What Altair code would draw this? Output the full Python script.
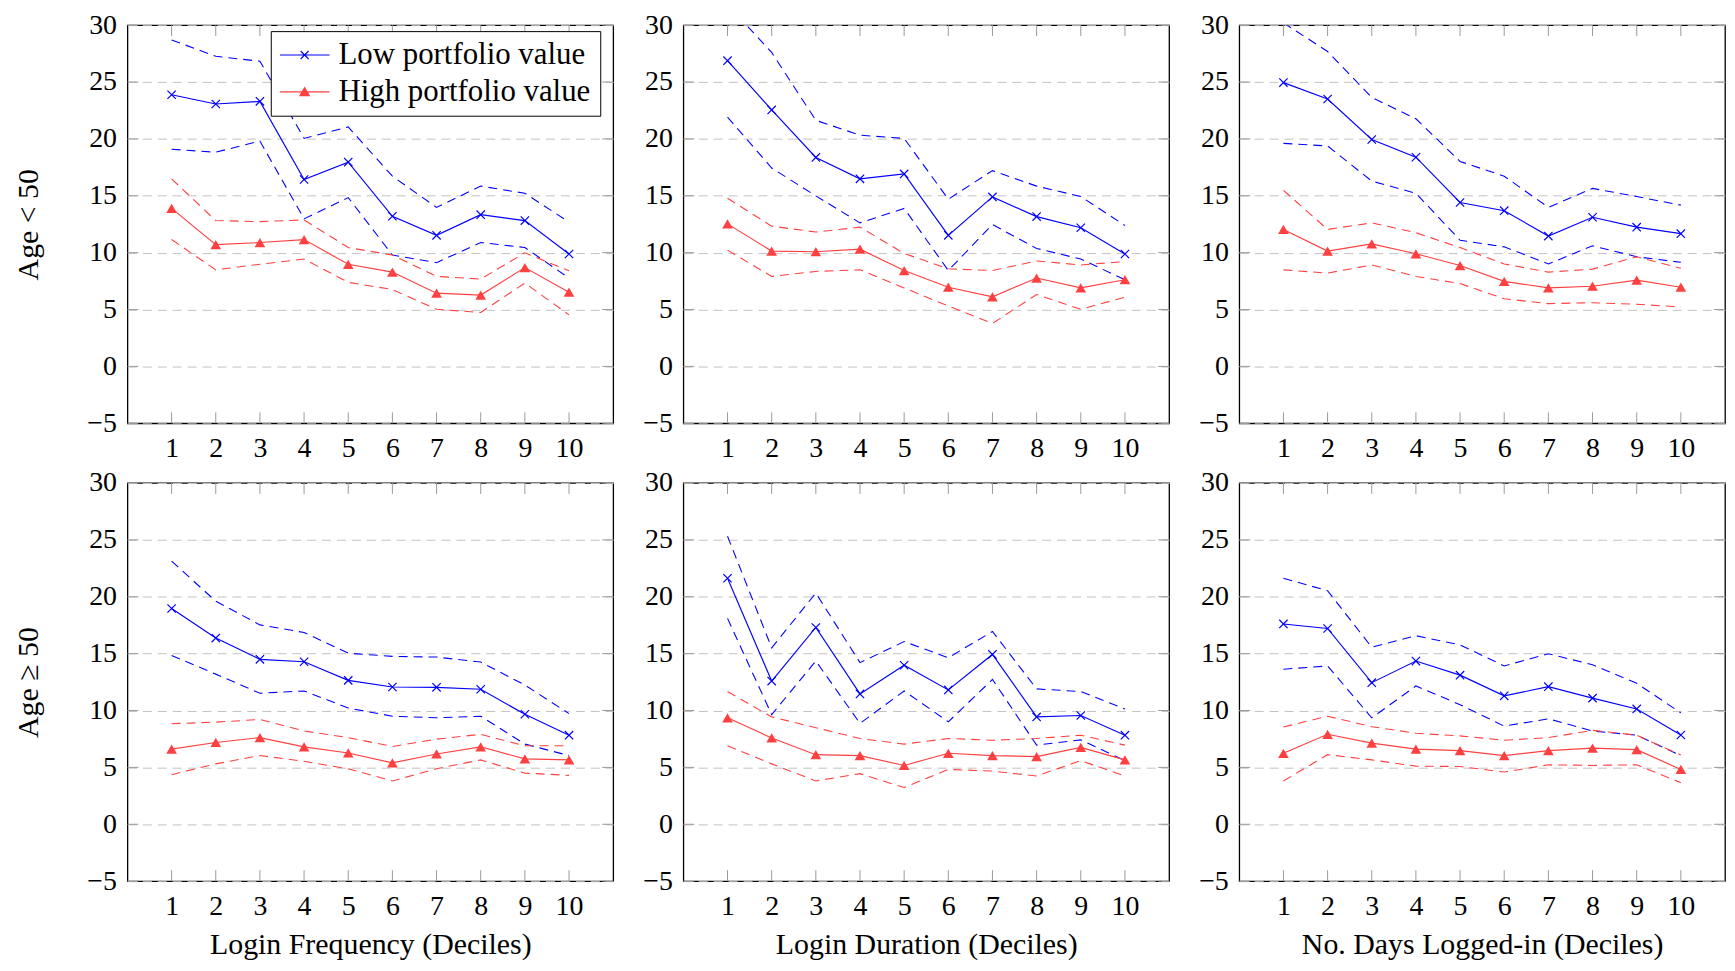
import altair as alt
import pandas as pd

# ---------------- data ----------------
DECILES = list(range(1, 11))
Y_TICKS = [-5, 0, 5, 10, 15, 20, 25, 30]
SERIES = ["Low portfolio value", "High portfolio value"]
X_TITLES = ["Login Frequency (Deciles)", "Login Duration (Deciles)", "No. Days Logged-in (Deciles)"]
ROW_TITLES = ["Age < 50", "Age \u2265 50"]

# Age < 50, Login Frequency
FREQ_Y_LOW = [23.88, 23.07, 23.3, 16.43, 17.96, 13.2, 11.52, 13.34, 12.82, 9.88]
FREQ_Y_LOW_UP = [28.7, 27.26, 26.83, 20.04, 21.05, 16.72, 13.98, 15.85, 15.22, 12.68]
FREQ_Y_LOW_LO = [19.09, 18.83, 19.81, 12.97, 14.84, 9.79, 9.12, 10.89, 10.45, 7.77]
FREQ_Y_HIGH = [13.89, 10.71, 10.89, 11.15, 8.98, 8.29, 6.44, 6.27, 8.69, 6.53]
FREQ_Y_HIGH_UP = [16.49, 12.82, 12.73, 12.88, 10.45, 9.79, 7.91, 7.68, 9.99, 8.4]
FREQ_Y_HIGH_LO = [11.15, 8.49, 8.98, 9.44, 7.39, 6.76, 5.02, 4.74, 7.33, 4.53]

# Age < 50, Login Duration
DUR_Y_LOW = [26.88, 22.55, 18.37, 16.49, 16.92, 11.52, 14.9, 13.17, 12.19, 9.88]
DUR_Y_LOW_UP = [31.8, 27.6, 21.63, 20.33, 20.04, 14.7, 17.21, 15.85, 14.93, 12.39]
DUR_Y_LOW_LO = [21.92, 17.44, 14.99, 12.62, 13.89, 8.43, 12.47, 10.37, 9.44, 7.62]
DUR_Y_HIGH = [12.53, 10.14, 10.08, 10.31, 8.43, 6.96, 6.12, 7.77, 6.9, 7.62]
DUR_Y_HIGH_UP = [14.78, 12.33, 11.81, 12.24, 9.93, 8.58, 8.43, 9.27, 8.92, 9.21]
DUR_Y_HIGH_LO = [10.22, 7.91, 8.35, 8.49, 6.9, 5.31, 3.78, 6.32, 5.02, 6.09]

# Age < 50, No. Days Logged-in
DAYS_Y_LOW = [24.95, 23.51, 19.95, 18.39, 14.41, 13.69, 11.46, 13.11, 12.24, 11.67]
DAYS_Y_LOW_UP = [30.2, 27.69, 23.65, 21.77, 18.02, 16.72, 13.98, 15.65, 14.93, 14.18]
DAYS_Y_LOW_LO = [19.61, 19.38, 16.29, 15.22, 11.09, 10.51, 9.01, 10.6, 9.64, 9.15]
DAYS_Y_HIGH = [12.04, 10.14, 10.77, 9.9, 8.87, 7.48, 6.9, 7.05, 7.59, 6.96]
DAYS_Y_HIGH_UP = [15.48, 12.04, 12.62, 11.75, 10.45, 9.01, 8.29, 8.55, 9.64, 8.63]
DAYS_Y_HIGH_LO = [8.49, 8.2, 8.92, 7.91, 7.28, 5.95, 5.52, 5.6, 5.46, 5.23]

# Age >= 50, Login Frequency
FREQ_O_LOW = [18.97, 16.37, 14.5, 14.29, 12.65, 12.07, 12.04, 11.87, 9.67, 7.83]
FREQ_O_LOW_UP = [23.13, 19.61, 17.53, 16.86, 15.04, 14.76, 14.7, 14.26, 12.24, 9.73]
FREQ_O_LOW_LO = [14.84, 13.2, 11.52, 11.72, 10.22, 9.5, 9.36, 9.5, 7.05, 6.04]
FREQ_O_HIGH = [6.61, 7.19, 7.62, 6.81, 6.27, 5.4, 6.18, 6.81, 5.75, 5.66]
FREQ_O_HIGH_UP = [8.84, 8.98, 9.21, 8.2, 7.62, 6.84, 7.48, 7.91, 6.9, 6.9]
FREQ_O_HIGH_LO = [4.36, 5.31, 6.04, 5.54, 4.88, 3.81, 4.88, 5.66, 4.5, 4.3]

# Age >= 50, Login Duration
DUR_O_LOW = [21.63, 12.59, 17.3, 11.46, 13.98, 11.81, 14.93, 9.44, 9.56, 7.83]
DUR_O_LOW_UP = [25.32, 15.51, 20.33, 14.21, 16.06, 14.64, 16.95, 11.9, 11.67, 10.14]
DUR_O_LOW_LO = [18.1, 9.64, 14.35, 8.87, 11.72, 9.01, 12.73, 6.96, 7.42, 5.6]
DUR_O_HIGH = [9.36, 7.59, 6.12, 6.04, 5.17, 6.24, 6.04, 5.95, 6.76, 5.66]
DUR_O_HIGH_UP = [11.67, 9.44, 8.49, 7.54, 7.05, 7.54, 7.39, 7.54, 7.83, 6.96]
DUR_O_HIGH_LO = [6.9, 5.31, 3.81, 4.45, 3.23, 4.82, 4.68, 4.24, 5.6, 4.24]

# Age >= 50, No. Days Logged-in
DAYS_O_LOW = [17.61, 17.21, 12.45, 14.35, 13.11, 11.29, 12.1, 11.09, 10.14, 7.85]
DAYS_O_LOW_UP = [21.63, 20.53, 15.56, 16.58, 15.77, 13.92, 14.99, 14.03, 12.39, 9.79]
DAYS_O_LOW_LO = [13.63, 13.92, 9.36, 12.16, 10.51, 8.63, 9.27, 8.2, 7.83, 6.04]
DAYS_O_HIGH = [6.24, 7.91, 7.13, 6.61, 6.47, 6.04, 6.47, 6.7, 6.56, 4.82]
DAYS_O_HIGH_UP = [8.55, 9.5, 8.58, 8.0, 7.77, 7.39, 7.62, 8.26, 7.83, 6.09]
DAYS_O_HIGH_LO = [3.81, 6.12, 5.66, 5.11, 5.08, 4.59, 5.23, 5.17, 5.23, 3.66]

PANELS = [
    [
        (FREQ_Y_LOW, FREQ_Y_LOW_UP, FREQ_Y_LOW_LO, FREQ_Y_HIGH, FREQ_Y_HIGH_UP, FREQ_Y_HIGH_LO),
        (DUR_Y_LOW, DUR_Y_LOW_UP, DUR_Y_LOW_LO, DUR_Y_HIGH, DUR_Y_HIGH_UP, DUR_Y_HIGH_LO),
        (DAYS_Y_LOW, DAYS_Y_LOW_UP, DAYS_Y_LOW_LO, DAYS_Y_HIGH, DAYS_Y_HIGH_UP, DAYS_Y_HIGH_LO),
    ],
    [
        (FREQ_O_LOW, FREQ_O_LOW_UP, FREQ_O_LOW_LO, FREQ_O_HIGH, FREQ_O_HIGH_UP, FREQ_O_HIGH_LO),
        (DUR_O_LOW, DUR_O_LOW_UP, DUR_O_LOW_LO, DUR_O_HIGH, DUR_O_HIGH_UP, DUR_O_HIGH_LO),
        (DAYS_O_LOW, DAYS_O_LOW_UP, DAYS_O_LOW_LO, DAYS_O_HIGH, DAYS_O_HIGH_UP, DAYS_O_HIGH_LO),
    ],
]

# ---------------- style ----------------
BLUE = "#0000ff"
RED = "#ff4040"
FONT = "Liberation Serif"
W, H = 488, 400
TICK_LEN = 11
TICK_COLOR = "#9a9a9a"
GRID_COLOR = "#c2c2c2"
DASH = [9, 6]

# marker shapes (paths in [-1, 1] units)
X_MARK = "M-1,-1L1,1M-1,1L1,-1"
# legend symbols: a horizontal line sample with the marker in the middle (filled outlines)
LEG_LOW = (
    "M-1,-0.022L1,-0.022L1,0.022L-1,0.022Z"
    "M-0.144,-0.176L0.176,0.144L0.144,0.176L-0.176,-0.144Z"
    "M-0.144,0.176L-0.176,0.144L0.144,-0.176L0.176,-0.144Z"
)
LEG_HIGH = "M-1,-0.022L1,-0.022L1,0.022L-1,0.022ZM0,-0.21L0.23,0.18L-0.23,0.18Z"

LEG_PROPS = dict(
    title=None, orient="none", legendX=144, legendY=6,
    fillColor="white", strokeColor="black", padding=9,
    symbolSize=2500, symbolStrokeWidth=0, symbolOpacity=1,
    labelFont=FONT, labelFontSize=31, labelColor="black", labelLimit=500,
    clipHeight=30, rowPadding=6, labelOffset=9,
)


def panel_frame(vals):
    low, low_up, low_lo, high, high_up, high_lo = vals
    parts = []
    for grp, kind, arr in [
        ("low", "mid", low), ("low", "up", low_up), ("low", "lo", low_lo),
        ("high", "mid", high), ("high", "up", high_up), ("high", "lo", high_lo),
    ]:
        parts.append(pd.DataFrame({"decile": DECILES, "value": arr, "grp": grp, "kind": kind}))
    return pd.concat(parts, ignore_index=True)


def make_panel(row, col):
    df = panel_frame(PANELS[row][col])

    x_axis = dict(values=DECILES, format="d", labelFontSize=28, labelFont=FONT, labelColor="black",
                  labelPadding=11, ticks=False, domain=False, grid=False,
                  titleFontSize=30, titleFont=FONT, titleFontWeight="normal", titlePadding=10,
                  titleColor="black")
    if row == 1:
        x_axis["title"] = X_TITLES[col]
    else:
        x_axis["title"] = None
    y_axis = dict(values=Y_TICKS, labelFontSize=28, labelFont=FONT, labelColor="black",
                  labelPadding=11, ticks=False, domain=False, grid=True, gridDash=DASH,
                  gridColor=GRID_COLOR, gridWidth=1,
                  titleFontSize=30, titleFont=FONT, titleFontWeight="normal", titlePadding=44,
                  titleColor="black")
    if col == 0:
        y_axis["title"] = ROW_TITLES[row]
    else:
        y_axis["title"] = None

    x_enc = alt.X("decile:Q", scale=alt.Scale(domain=[0, 11], nice=False, zero=False), axis=alt.Axis(**x_axis))
    y_enc = alt.Y("value:Q", scale=alt.Scale(domain=[-5, 30], nice=False, zero=False), axis=alt.Axis(**y_axis))

    base = alt.Chart(df)
    xt = alt.Chart(pd.DataFrame({"decile": DECILES}))
    yt = alt.Chart(pd.DataFrame({"value": Y_TICKS}))

    layers = [
        xt.mark_rule(color=TICK_COLOR, strokeWidth=1).encode(x=x_enc, y=alt.value(0), y2=alt.value(TICK_LEN)),
        xt.mark_rule(color=TICK_COLOR, strokeWidth=1).encode(x=x_enc, y=alt.value(H), y2=alt.value(H - TICK_LEN)),
        yt.mark_rule(color=TICK_COLOR, strokeWidth=1).encode(y=y_enc, x=alt.value(0), x2=alt.value(TICK_LEN)),
        yt.mark_rule(color=TICK_COLOR, strokeWidth=1).encode(y=y_enc, x=alt.value(W - TICK_LEN), x2=alt.value(W)),
    ]
    for grp, colr in [("low", BLUE), ("high", RED)]:
        layers.append(
            base.transform_filter((alt.datum.grp == grp) & (alt.datum.kind != "mid"))
            .mark_line(color=colr, strokeWidth=1.1, strokeDash=DASH, clip=True)
            .encode(x=x_enc, y=y_enc, detail="kind:N")
        )
    for grp, colr in [("low", BLUE), ("high", RED)]:
        layers.append(
            base.transform_filter((alt.datum.grp == grp) & (alt.datum.kind == "mid"))
            .mark_line(color=colr, strokeWidth=1.15, clip=True)
            .encode(x=x_enc, y=y_enc)
        )
    layers.append(
        base.transform_filter((alt.datum.grp == "low") & (alt.datum.kind == "mid"))
        .mark_point(shape=X_MARK, size=70, filled=False, color=BLUE, strokeWidth=1.2, opacity=1, clip=True)
        .encode(x=x_enc, y=y_enc)
    )
    layers.append(
        base.transform_filter((alt.datum.grp == "high") & (alt.datum.kind == "mid"))
        .mark_point(shape="triangle-up", size=115, filled=True, color=RED, opacity=1, clip=True)
        .encode(x=x_enc, y=y_enc)
    )
    if row == 0 and col == 0:
        leg_df = pd.DataFrame({"series": SERIES})
        layers.append(
            alt.Chart(leg_df).mark_point(filled=True, opacity=1)
            .encode(
                color=alt.Color("series:N", scale=alt.Scale(domain=SERIES, range=[BLUE, RED]),
                                legend=alt.Legend(**LEG_PROPS)),
                shape=alt.Shape("series:N", scale=alt.Scale(domain=SERIES, range=[LEG_LOW, LEG_HIGH]),
                                legend=alt.Legend(**LEG_PROPS)),
            )
            .transform_filter("false")
        )
    return alt.layer(*layers).properties(width=W, height=H)


rows = []
for r in range(2):
    rows.append(
        alt.hconcat(*[make_panel(r, c) for c in range(3)], spacing=26.5)
        .resolve_scale(color="independent", shape="independent")
    )

chart = (
    alt.vconcat(*rows, spacing=5)
    .resolve_scale(color="independent", shape="independent")
    .properties(padding={"left": 4, "top": 0, "right": 0, "bottom": 0}, background="white")
    .configure(font=FONT)
    .configure_axis(labelFont=FONT, titleFont=FONT)
    .configure_legend(labelFont=FONT)
    .configure_view(stroke="black", strokeWidth=1.3)
)

chart.save("out.html", embed_options={"renderer": "svg", "actions": False})
